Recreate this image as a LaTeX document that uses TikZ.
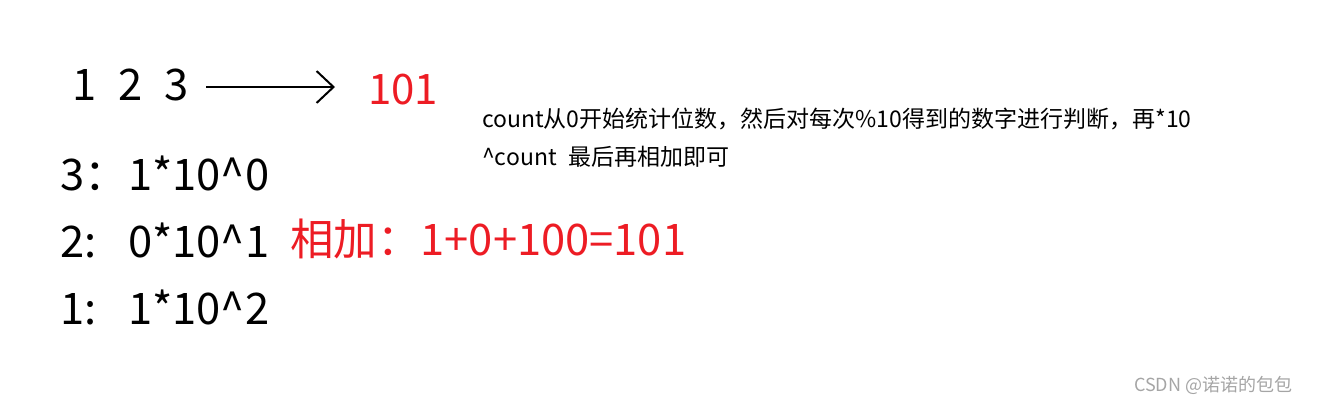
\documentclass[tikz,border=0pt]{standalone}
\usepackage{fontspec}
\setmainfont{Noto Sans CJK SC}
\usetikzlibrary{arrows.meta}
\definecolor{pred}{RGB}{237,28,36}
\definecolor{wm}{RGB}{165,165,165}
\tikzset{
  big/.style={anchor=base west, inner sep=0pt, font=\fontsize{43.5}{50}\selectfont},
  bigred/.style={big, text=pred},
  small/.style={anchor=base west, inner sep=0pt, font=\fontsize{23}{27}\selectfont},
  wmtext/.style={anchor=base west, inner sep=0pt, text=wm, font=\fontsize{18}{20}\selectfont},
  arr/.style={line width=2pt, -{Straight Barb[length=17pt,width=32pt,line width=2pt]}}
}
\begin{document}
\begin{tikzpicture}[x=1pt,y=-1pt]
\useasboundingbox (0,0) rectangle (1320,405);
\node[big] (n123) at (72,100) {1\hspace{22pt}2\hspace{22pt}3};
\node[bigred, font=\fontsize{42}{50}\selectfont] (r101) at (368,104) {101};
\coordinate (a1) at (206,87);
\coordinate (a2) at (335,87);
\draw[arr] (a1) -- (a2);
\node[small] (d1) at (482,127) {count从0开始统计位数，然后对每次\%10得到的数字进行判断，再*10};
\node[small] (d2) at (482,165) {\^{}count\hspace{12pt}最后再相加即可};
\node[big] (l3) at (60,190) {3：};
\node[big] (e3) at (128,190) {1*10\^{}0};
\node[big] (l2) at (60,257) {2:};
\node[big] (e2) at (128,257) {0*10\^{}1};
\node[big] (l1) at (60,324) {1:};
\node[big] (e1) at (128,324) {1*10\^{}2};
\node[bigred] (sum) at (290,255) {相加：1+0+100=101};
\node[wmtext] (wmk) at (1134,391) {CSDN @诺诺的包包};
\end{tikzpicture}
\end{document}
